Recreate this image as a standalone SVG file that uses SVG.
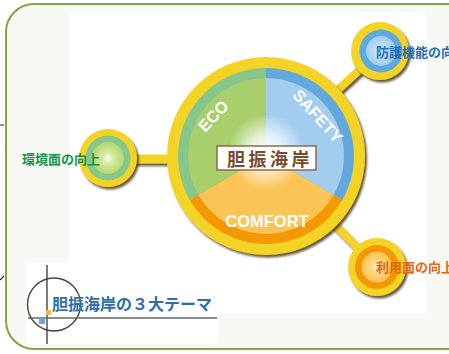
<svg xmlns="http://www.w3.org/2000/svg" width="449" height="354" viewBox="0 0 449 354">
<defs>
<style>
.lbl{font-family:"Liberation Sans","Noto Sans CJK JP",sans-serif;font-weight:bold}
.seg{font-family:"Liberation Sans",Arial,sans-serif;font-weight:bold;fill:#fff;font-size:16.5px;text-anchor:middle}
.yel{fill:#f3d426}
.bar{stroke:#f3d426;fill:none}
</style>
<filter id="sh" x="-20%" y="-20%" width="150%" height="150%">
<feDropShadow dx="2" dy="2.5" stdDeviation="1.2" flood-color="#4a3418" flood-opacity="0.85"/>
</filter>
<radialGradient id="glow" cx="0.5" cy="0.5" r="0.5">
<stop offset="0" stop-color="#fff" stop-opacity="1"/>
<stop offset="0.45" stop-color="#fff" stop-opacity="0.7"/>
<stop offset="1" stop-color="#fff" stop-opacity="0"/>
</radialGradient>
<radialGradient id="gG" cx="0.5" cy="0.5" r="0.5">
<stop offset="0" stop-color="#fbfdf2"/>
<stop offset="0.35" stop-color="#d6eaa3"/>
<stop offset="1" stop-color="#b3d66e"/>
</radialGradient>
<radialGradient id="gB" cx="0.5" cy="0.5" r="0.5">
<stop offset="0" stop-color="#f4f9fd"/>
<stop offset="0.35" stop-color="#c4e0f5"/>
<stop offset="1" stop-color="#9fcbee"/>
</radialGradient>
<radialGradient id="gO" cx="0.5" cy="0.5" r="0.5">
<stop offset="0" stop-color="#fff6e0"/>
<stop offset="0.35" stop-color="#fdd98a"/>
<stop offset="1" stop-color="#fbc24f"/>
</radialGradient>
</defs>

<rect x="0" y="0" width="449" height="354" fill="#ffffff"/>
<rect x="6" y="4" width="470" height="345" rx="28" fill="#f8f8f5" stroke="#86a544" stroke-width="2"/>
<rect x="69" y="13" width="357" height="301" fill="#ffffff"/>
<path d="M0 125 H4 M0 280 L4 276" stroke="#222" stroke-width="1.2"/>

<g id="connectors" filter="url(#sh)">
<line class="bar" x1="130" y1="159" x2="175" y2="159" stroke-width="9"/>
<line class="bar" x1="380" y1="51" x2="330" y2="97" stroke-width="8"/>
<line class="bar" x1="377" y1="267" x2="330" y2="220" stroke-width="8"/>
</g>

<g id="center">
<circle class="yel" cx="266" cy="156" r="99" filter="url(#sh)"/>
<path d="M266,156 L266,68 A88,88 0 0 0 189.79,200 Z" fill="#86c68a"/>
<path d="M266,156 L266,68 A88,88 0 0 1 342.21,200 Z" fill="#62a8dc"/>
<path d="M266,156 L342.21,200 A88,88 0 0 1 189.79,200 Z" fill="#f39800"/>
<path d="M266,156 L266,78 A78,78 0 0 0 198.45,195 Z" fill="#a9cf6c"/>
<path d="M266,156 L266,78 A78,78 0 0 1 333.55,195 Z" fill="#a3cdee"/>
<path d="M266,156 L333.55,195 A78,78 0 0 1 198.45,195 Z" fill="#fbc456"/>
<circle cx="266" cy="152" r="38" fill="url(#glow)"/>
<text class="seg" transform="translate(217.5,120) rotate(-47)">ECO</text>
<text class="seg" transform="translate(313.5,120) rotate(48)">SAFETY</text>
<text class="seg" x="267" y="227">COMFORT</text>
<rect x="217" y="146" width="99" height="24" fill="#ffffff" stroke="#8b6b4f" stroke-width="1.5"/>
<text class="lbl" x="227" y="166" font-size="18" letter-spacing="3.5" fill="#7a4b2b">胆振海岸</text>
</g>

<g id="eco-node">
<circle class="yel" cx="108" cy="158" r="29" filter="url(#sh)"/>
<circle cx="108" cy="158" r="22.5" fill="#86c68a"/>
<circle cx="108" cy="158" r="16" fill="url(#gG)"/>
<text class="lbl" x="22" y="164" font-size="13" fill="#15924a">環境面の向上</text>
</g>

<g id="safety-node">
<circle class="yel" cx="380" cy="51" r="29" filter="url(#sh)"/>
<circle cx="381" cy="51" r="21.5" fill="#5ea9dd"/>
<circle cx="381" cy="51" r="15" fill="url(#gB)"/>
<text class="lbl" x="376" y="57" font-size="13" fill="#1f6fb7">防護機能の向上</text>
</g>

<g id="comfort-node">
<circle class="yel" cx="377" cy="267" r="29" filter="url(#sh)"/>
<circle cx="377" cy="267" r="22" fill="#f39800"/>
<circle cx="377" cy="267" r="15.5" fill="url(#gO)"/>
<text class="lbl" x="376" y="272" font-size="13" fill="#e4660f">利用面の向上</text>
</g>

<g id="logo">
<rect x="26" y="262" width="192" height="82" fill="#ffffff"/>
<circle cx="54" cy="304.5" r="26.5" fill="none" stroke="#444" stroke-width="1.4"/>
<line x1="47" y1="265" x2="47" y2="344" stroke="#444" stroke-width="1.4"/>
<line x1="28" y1="318" x2="217" y2="318" stroke="#666" stroke-width="1.6"/>
<rect x="46" y="310" width="5" height="5" fill="#f4b450"/>
<rect x="39" y="318" width="6" height="6" fill="#6ea4d8"/>
<text x="52" y="310" font-family="'Liberation Sans','Noto Sans CJK JP',sans-serif" font-weight="bold" font-size="16" textLength="160" lengthAdjust="spacingAndGlyphs" fill="#2f6ea8">胆振海岸の３大テーマ</text>
</g>
</svg>
